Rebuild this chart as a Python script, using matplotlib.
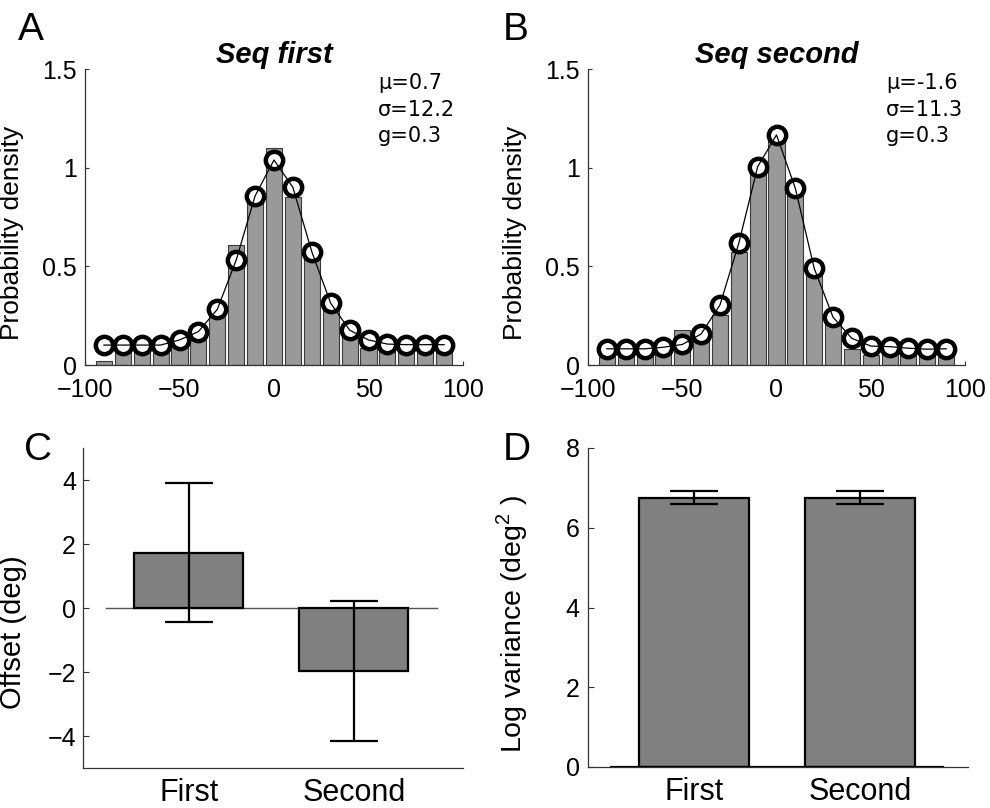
import matplotlib
matplotlib.use('Agg')
import matplotlib.pyplot as plt

plt.rcParams['font.family'] = ['Liberation Sans', 'DejaVu Sans']
plt.rcParams['mathtext.fontset'] = 'custom'
plt.rcParams['mathtext.rm'] = 'Liberation Sans'
plt.rcParams['axes.unicode_minus'] = True

# ---------------- data ----------------
bin_centers = [-90, -80, -70, -60, -50, -40, -30, -20, -10, 0, 10, 20, 30, 40, 50, 60, 70, 80, 90]

hist_first = [0.02, 0.10, 0.10, 0.06, 0.11, 0.13, 0.25, 0.61, 0.84, 1.10, 0.85, 0.557,
              0.287, 0.143, 0.085, 0.093, 0.10, 0.093, 0.07]
model_first = [0.101, 0.101, 0.101, 0.101, 0.127, 0.169, 0.282, 0.532, 0.857, 1.039, 0.90,
               0.574, 0.313, 0.177, 0.127, 0.106, 0.103, 0.103, 0.103]

hist_second = [0.042, 0.05, 0.05, 0.059, 0.177, 0.13, 0.253, 0.574, 0.988, 1.16, 0.862,
               0.465, 0.237, 0.08, 0.05, 0.059, 0.076, 0.059, 0.05]
model_second = [0.082, 0.082, 0.082, 0.09, 0.104, 0.157, 0.304, 0.617, 1.005, 1.166, 0.895,
                0.49, 0.242, 0.135, 0.096, 0.093, 0.085, 0.08, 0.082]

stats_first = ['\u03bc=0.7', '\u03c3=12.2', 'g=0.3']
stats_second = ['\u03bc=-1.6', '\u03c3=11.3', 'g=0.3']
titles = ['Seq first', 'Seq second']

conditions = ['First', 'Second']
offset_mean = [1.73, -1.97]
offset_err = [2.17, 2.18]
logvar_mean = [6.75, 6.75]
logvar_err = [0.16, 0.16]

hist_xticks = [-100, -50, 0, 50, 100]
hist_yticks = [0, 0.5, 1, 1.5]
hist_yticklabels = ['0', '0.5', '1', '1.5']
offset_yticks = [-4, -2, 0, 2, 4]
logvar_yticks = [0, 2, 4, 6, 8]

# ---------------- figure ----------------
W, H = 990, 808
fig = plt.figure(figsize=(W / 100, H / 100), dpi=100)


def px_axes(left, top, right, bottom):
    return fig.add_axes([left / W, 1 - bottom / H, (right - left) / W, (bottom - top) / H])


spine_color = '#333333'


def style(ax):
    for s in ['top', 'right']:
        ax.spines[s].set_visible(False)
    for s in ['left', 'bottom']:
        ax.spines[s].set_color(spine_color)
        ax.spines[s].set_linewidth(0.9)
    ax.tick_params(axis='both', direction='in', color=spine_color, width=0.8)


axA = px_axes(85, 69, 463, 365)
axB = px_axes(588, 69, 965, 365)
axC = px_axes(83, 448, 463, 768)
axD = px_axes(588, 448, 968, 767)

for ax, hv, mv, st, ttl, lx in [(axA, hist_first, model_first, stats_first, titles[0], 0.775),
                                (axB, hist_second, model_second, stats_second, titles[1], 0.79)]:
    style(ax)
    ax.bar(bin_centers, hv, width=8.5, color='#999999', edgecolor='#3a3a3a', linewidth=0.8, zorder=2)
    ax.plot(bin_centers, mv, linestyle='none', marker='o', markersize=12.5,
            markerfacecolor='white', markeredgecolor='black', markeredgewidth=3.2, zorder=3)
    ax.plot(bin_centers, mv, color='black', linewidth=0.9, zorder=4)
    ax.set_xlim(-100, 100)
    ax.set_ylim(0, 1.5)
    ax.set_xticks(hist_xticks)
    ax.set_yticks(hist_yticks)
    ax.set_yticklabels(hist_yticklabels)
    ax.tick_params(axis='x', length=3, pad=9, labelsize=18)
    ax.tick_params(axis='y', length=3, pad=6, labelsize=18)
    ax.set_ylabel('Probability density', fontsize=19)
    ax.yaxis.set_label_coords(-0.162, 0.448)
    ax.set_title(ttl, fontsize=21, fontweight='bold', fontstyle='italic', pad=1.5)
    for i, s in enumerate(st):
        ax.text(lx, [0.953, 0.862, 0.774][i], s, transform=ax.transAxes, ha='left', va='center',
                fontsize=15, family='DejaVu Sans')

# Panel C
style(axC)
xpos = [1, 2]
axC.plot([0.5, 2.5], [0, 0], color='#555555', linewidth=1.0, zorder=1)
axC.bar(xpos, offset_mean, width=0.66, color='#808080', edgecolor='black', linewidth=1.6, zorder=2)
axC.errorbar(xpos, offset_mean, yerr=offset_err, fmt='none', ecolor='black', elinewidth=1.6,
             capsize=17, capthick=1.6, zorder=3)
axC.set_xlim(0.36, 2.66)
axC.set_ylim(-5, 5)
axC.set_yticks(offset_yticks)
axC.set_xticks(xpos)
axC.set_xticklabels(conditions)
axC.tick_params(axis='x', length=0, pad=7, labelsize=22)
axC.tick_params(axis='y', length=4, pad=5, labelsize=18)
axC.set_ylabel('Offset (deg)', fontsize=21)
axC.yaxis.set_label_coords(-0.147, 0.423)

# Panel D
style(axD)
axD.bar(xpos, logvar_mean, width=0.66, color='#808080', edgecolor='black', linewidth=1.6, zorder=2)
axD.plot([0.5, 2.5], [0, 0], color='black', linewidth=1.6, zorder=3)
axD.errorbar(xpos, logvar_mean, yerr=logvar_err, fmt='none', ecolor='black', elinewidth=1.6,
             capsize=17, capthick=1.6, zorder=3)
axD.set_xlim(0.36, 2.65)
axD.set_ylim(0, 8)
axD.set_yticks(logvar_yticks)
axD.set_xticks(xpos)
axD.set_xticklabels(conditions)
axD.tick_params(axis='x', length=0, pad=7, labelsize=22)
axD.tick_params(axis='y', length=4, pad=6, labelsize=18)
axD.set_ylabel('Log variance (deg$^{\\mathrm{2}}$ )', fontsize=20.5)
axD.yaxis.set_label_coords(-0.153, 0.448)

# Panel letters
for letter, x, y in [('A', 18, 40), ('B', 503, 40), ('C', 24, 460), ('D', 503, 460)]:
    fig.text(x / W, 1 - y / H, letter, fontsize=28, ha='left', va='baseline')

fig.savefig('out.png', dpi=100)
